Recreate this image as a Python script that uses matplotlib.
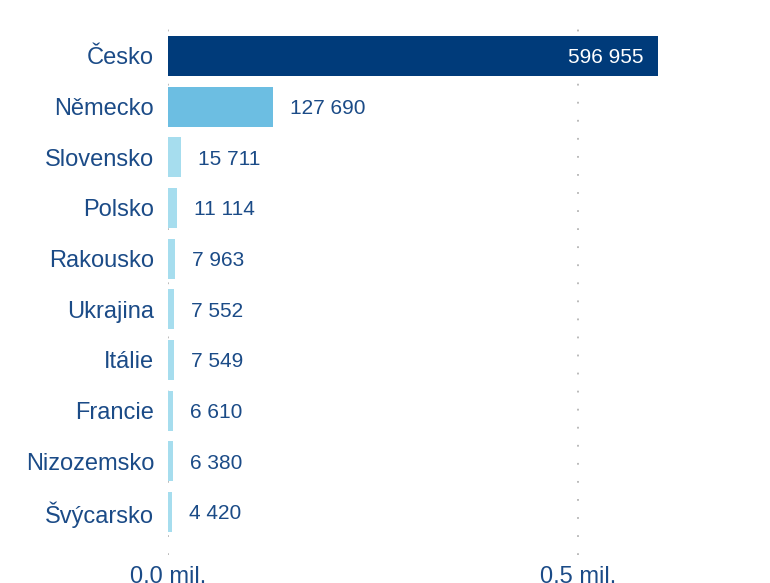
import matplotlib.pyplot as plt
import numpy as np

countries = ['Česko', 'Německo', 'Slovensko', 'Polsko', 'Rakousko',
             'Ukrajina', 'Itálie', 'Francie', 'Nizozemsko', 'Švýcarsko']
values = [596955, 127690, 15711, 11114, 7963, 7552, 7549, 6610, 6380, 4420]
value_labels = ['596 955', '127 690', '15 711', '11 114', '7 963',
                '7 552', '7 549', '6 610', '6 380', '4 420']
tick_vals = [0, 500000]
tick_labels = ['0,0 mil.', '0,5 mil.']

plt.rcParams['font.family'] = ['Liberation Sans', 'DejaVu Sans']
txt_col = '#1b4b87'

bar_cols = ['#003b7a', '#6cbee2'] + ['#a6ddee'] * 8

fig = plt.figure(figsize=(7.7, 5.83), dpi=100)
ax = fig.add_axes([168/770, (583-555)/583, 1 - 168/770, (555-20)/583])

y = np.arange(len(countries))
ax.barh(y, values, height=0.79, color=bar_cols, zorder=2)

for i, (v, lab) in enumerate(zip(values, value_labels)):
    if i == 0:
        ax.text(v - 14/820*1e6, i, lab, ha='right', va='center_baseline',
                color='white', fontsize=15)
    else:
        ax.text(v + 17/820*1e6, i, lab, ha='left', va='center_baseline',
                color=txt_col, fontsize=15)

ax.set_xlim(0, 602/820*1e6)
ax.set_ylim(len(countries) - 1 + 0.85, -0.71)
ax.set_yticks(y)
ax.set_yticklabels(countries, fontsize=17, color=txt_col)
ax.set_xticks(tick_vals)
ax.set_xticklabels(tick_labels, fontsize=17, color=txt_col)
ax.tick_params(length=0)
ax.tick_params(axis='y', pad=10)
ax.tick_params(axis='x', pad=8)

for s in ax.spines.values():
    s.set_visible(False)
ax.xaxis.grid(True, linestyle=(0, (1, 9)), color='#b5b5b5', linewidth=1.3, zorder=0)
ax.set_axisbelow(True)

fig.savefig('out.png', dpi=100)
